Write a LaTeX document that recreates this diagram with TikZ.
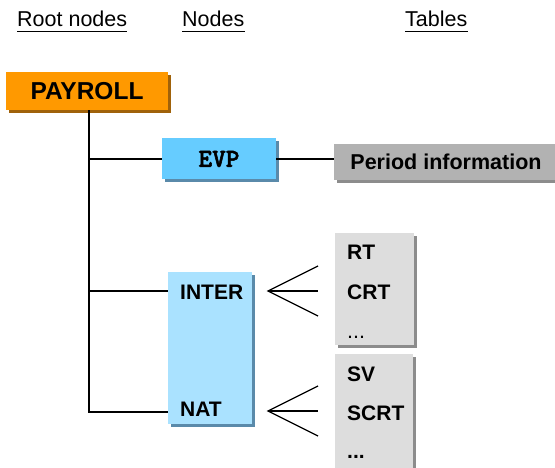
\documentclass[tikz,border=0pt]{standalone}
\usepackage{fontspec}
\setmainfont{Liberation Sans}
\newfontfamily\evpfont[FakeBold=2]{lmmonolt10-bold.otf}
\usetikzlibrary{calc,shadows}
\definecolor{payrollorange}{HTML}{FF9900}
\definecolor{orangeshadow}{HTML}{A0620A}
\definecolor{evpblue}{HTML}{66CCFF}
\definecolor{nodeblue}{HTML}{AAE2FF}
\definecolor{blueshadow}{HTML}{5A8AAA}
\definecolor{periodgray}{HTML}{B2B2B2}
\definecolor{tablegray}{HTML}{DDDDDD}
\definecolor{grayshadow}{HTML}{8C8C8C}

\begin{document}
\begin{tikzpicture}[x=1pt,y=-1pt,
    head/.style={anchor=base west,inner sep=0pt,font=\fontsize{21.5}{25}\selectfont},
    entry/.style={anchor=base west,inner sep=0pt,font=\fontsize{21}{25}\selectfont\bfseries},
    box/.style={inner sep=0pt,minimum width=#1},
    shadowed/.style={drop shadow={shadow xshift=3pt,shadow yshift=-3pt,fill=#1,opacity=1}},
    link/.style={line width=1.6pt},
    fork/.style={line width=1.2pt}]
    \useasboundingbox (0,0) rectangle (555,468);
    % column heads
    \foreach \name/\x/\txt in {rootnodes/17/Root nodes,nodes/182/Nodes,tables/405/Tables} {
        \node[head] (\name) at (\x,27) {\txt};
        \draw[line width=1.5pt] ([yshift=-4pt]\name.south west) -- ([yshift=-4pt]\name.south east);
    }
    % boxes
    \node[box=162pt,minimum height=38pt,fill=payrollorange,shadowed=orangeshadow,
        font=\fontsize{24.5}{28}\selectfont\bfseries] (payroll) at (87,91) {PAYROLL};
    \node[box=114pt,minimum height=41pt,fill=evpblue,shadowed=blueshadow] (evp) at (219,159)
        {\fontsize{26}{28}\selectfont\evpfont EVP};
    \node[box=224pt,minimum height=36pt,fill=periodgray,shadowed=grayshadow,
        font=\fontsize{21.5}{25}\selectfont\bfseries] (period) at (446,162) {Period information};
    \node[box=84pt,minimum height=152pt,fill=nodeblue,shadowed=blueshadow] (natbox) at (210,348) {};
    \node[box=79pt,minimum height=112pt,fill=tablegray,shadowed=grayshadow] (tabA) at (374.5,289) {};
    \node[box=78pt,minimum height=121pt,fill=tablegray,shadowed=grayshadow] (tabB) at (374,414.5) {};
    % texts
    \node[entry] (inter) at (180,299) {INTER};
    \node[entry] (nat) at (180,416) {NAT};
    \node[entry] (rt) at (347,260) {RT};
    \node[entry] (crt) at (347,299) {CRT};
    \node[head] (moreA) at (347,338) {...};
    \node[entry] (sv) at (347,381) {SV};
    \node[entry] (scrt) at (347,420) {SCRT};
    \node[entry] (moreB) at (347,458) {...};
    % connectors
    \coordinate (trunk) at (89,412);
    \coordinate (interfork) at (268,291);
    \coordinate (natfork) at (268,411);
    \draw[link] (trunk |- payroll.south) -- (trunk) -- (trunk -| natbox.west);
    \draw[link] (trunk |- evp) -- (evp.west);
    \draw[link] (trunk |- interfork) -- (interfork -| natbox.west);
    \draw[link] (evp.east) -- (evp.east -| period.west);
    \foreach \f in {interfork,natfork} {
        \draw[fork] ($(\f)+(50,-25)$) -- (\f) -- ($(\f)+(50,25)$);
        \draw[fork] (\f) -- ++(50,0);
    }
\end{tikzpicture}
\end{document}
